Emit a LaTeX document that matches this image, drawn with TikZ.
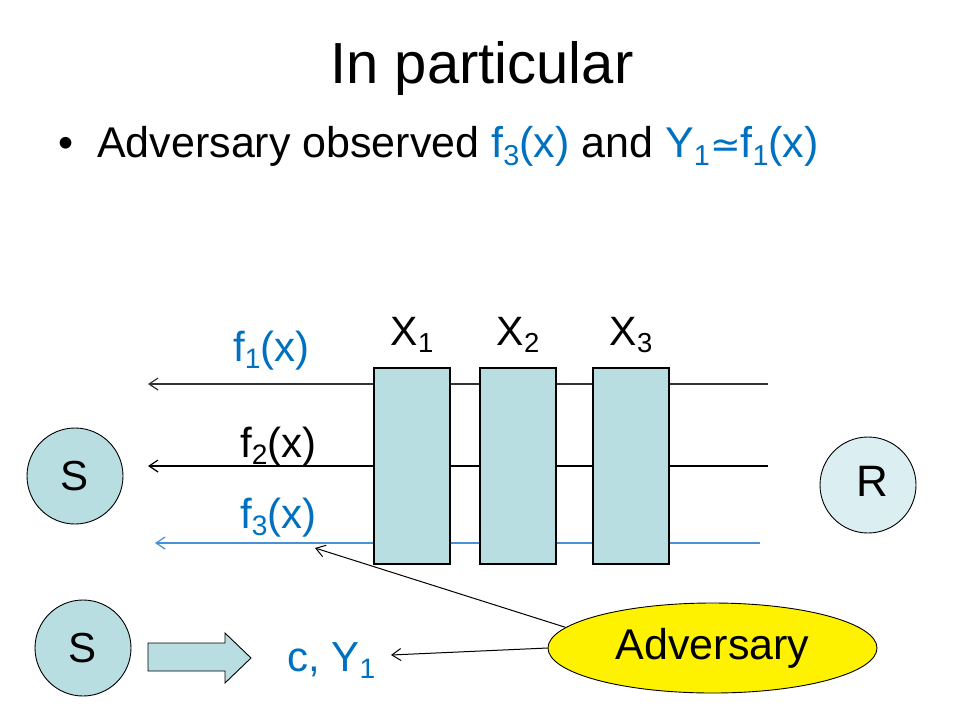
\documentclass[tikz,border=0pt]{standalone}
\usepackage{fontspec}
\setmainfont{Liberation Sans}
\newfontfamily\symfont{DejaVu Sans}
\usetikzlibrary{arrows.meta,shapes.geometric}
\definecolor{boxfill}{RGB}{185,222,226}
\definecolor{rfill}{RGB}{219,238,241}
\definecolor{txtblue}{RGB}{0,112,192}
\definecolor{lineblue}{RGB}{74,144,212}
\newcommand{\idx}[1]{\raisebox{-0.19em}{\scalebox{0.67}{#1}}}
\tikzset{
    chan/.style={line width=1.2pt, -{Straight Barb[length=9pt,width=12pt]}},
    relay/.style={draw, line width=1.4pt, fill=boxfill, minimum width=76pt, minimum height=196pt, inner sep=0pt},
    party/.style={circle, draw, line width=0.9pt, fill=boxfill, minimum size=96pt, inner sep=0pt, font=\fontsize{42}{50}\selectfont},
    lbl/.style={inner sep=0pt, anchor=base west, font=\fontsize{42}{50}\selectfont},
}

\begin{document}
\begin{tikzpicture}[x=1pt,y=-1pt]
    \useasboundingbox (0,0) rectangle (960,720);
    \node[inner sep=0pt, anchor=base, font=\fontsize{58}{70}\selectfont] (title) at (482,83) {In particular};
    \node[inner sep=0pt, anchor=base west, font=\fontsize{43}{52}\selectfont] (dot) at (58,157) {\textbullet};
    \node[inner sep=0pt, anchor=base west, font=\fontsize{43}{52}\selectfont] (point) at (97,157) {Adversary observed \textcolor{txtblue}{f\idx{3}(x)} and \textcolor{txtblue}{Y\idx{1}{\symfont\scalebox{0.85}{≃}}f\idx{1}(x)}};
    % channels
    \coordinate (e1) at (768,384); \coordinate (w1) at (148,384);
    \coordinate (e2) at (768,466); \coordinate (w2) at (148,466);
    \coordinate (e3) at (760,543); \coordinate (w3) at (155,543);
    \draw[chan, black!80] (e1) -- (w1);
    \draw[chan] (e2) -- (w2);
    \draw[chan, lineblue] (e3) -- (w3);
    \foreach \i/\x in {1/412,2/518,3/631} {
        \node[relay] (x\i) at (\x,466) {};
        \node[inner sep=0pt, anchor=base, font=\fontsize{41}{50}\selectfont] (xl\i) at (\x,345) {X\idx{\i}};
    }
    \node[lbl, txtblue] (f1) at (233,361) {f\idx{1}(x)};
    \node[lbl] (f2) at (240,457) {f\idx{2}(x)};
    \node[lbl, txtblue] (f3) at (240,528) {f\idx{3}(x)};
    % parties
    \node[party] (s1) at (75,476) {S};
    \node[party, fill=rfill] (r) at (868,485) {};
    \node[inner sep=0pt, anchor=base, font=\fontsize{44}{52}\selectfont] (rl) at (872,496) {R};
    \node[party] (s2) at (83,648) {S};
    \draw[line width=0.9pt, fill=boxfill] (148,643) -- (225,643) -- (225,633) -- (251,658) -- (225,683) -- (225,671) -- (148,671) -- cycle;
    \node[lbl, txtblue] (cy) at (287,671) {c, Y\idx{1}};
    % adversary
    \node[ellipse, draw, line width=0.9pt, fill=yellow, minimum width=329pt, minimum height=90pt, inner sep=0pt, font=\fontsize{43}{52}\selectfont] (adv) at (712.5,648) {Adversary};
    \coordinate (t3) at (315,548);
    \coordinate (tc) at (391,655);
    \draw[line width=1pt, -{Straight Barb[length=9pt,width=12pt]}] (adv.172) -- (t3);
    \draw[line width=1pt, -{Straight Barb[length=9pt,width=12pt]}] (adv.west) -- (tc);
\end{tikzpicture}
\end{document}
